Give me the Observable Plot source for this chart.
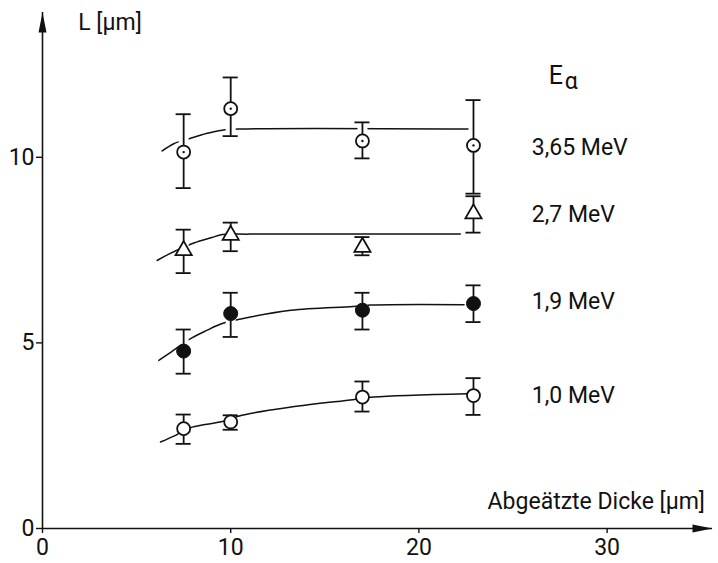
<!DOCTYPE html>
<html><head><meta charset="utf-8">
<script src="https://cdn.jsdelivr.net/npm/d3@7"></script>
<script src="https://cdn.jsdelivr.net/npm/@observablehq/plot@0.6"></script>
<style>body{margin:0;background:#fff}</style>
</head><body><div id="chart"></div>
<script>
// ---- data ----
const thickness = [7.5, 10, 17, 22.9];           // Abgeätzte Dicke [µm]
const energies = ["3,65 MeV", "2,7 MeV", "1,9 MeV", "1,0 MeV"];
const L_365 = [10.14, 11.31, 10.44, 10.32];
const lo_365 = [9.17, 10.57, 9.97, 9.02];
const hi_365 = [11.16, 12.15, 10.94, 11.54];
const L_27 = [7.49, 7.90, 7.58, 8.48];
const lo_27 = [6.88, 7.47, 7.36, 7.97];
const hi_27 = [8.05, 8.24, 7.85, 8.95];
const L_19 = [4.78, 5.79, 5.88, 6.06];
const lo_19 = [4.17, 5.16, 5.36, 5.56];
const hi_19 = [5.36, 6.35, 6.35, 6.55];
const L_10 = [2.69, 2.87, 3.54, 3.58];
const lo_10 = [2.28, 2.66, 3.15, 3.06];
const hi_10 = [3.07, 3.05, 3.96, 4.05];
// fitted curves
const fitX_365 = [6.36, 7.0, 7.8, 8.7, 9.55, 10.5, 22.74];
const fitY_365 = [10.17, 10.37, 10.5, 10.64, 10.73, 10.76, 10.76];
const fitX_27 = [6.09, 6.71, 8.04, 9.0, 9.55, 11, 22.2];
const fitY_27 = [7.22, 7.39, 7.69, 7.84, 7.92, 7.93, 7.93];
const fitX_19 = [6.18, 6.71, 7.78, 8.7, 9.55, 10.6, 13.2, 16.5, 17.5, 22.4];
const fitY_19 = [4.53, 4.71, 5.09, 5.33, 5.52, 5.65, 5.88, 5.98, 6.02, 6.03];
const fitX_10 = [6.27, 7.07, 7.95, 9.55, 10.6, 13.2, 16.5, 17.6, 22.6];
const fitY_10 = [2.33, 2.51, 2.73, 2.88, 3.05, 3.27, 3.47, 3.54, 3.63];
const labelY = [10.27, 8.46, 6.1, 3.57];
const xTicks = [0, 10, 20, 30];
const yTicks = [0, 5, 10];
const xLabel = "Abgeätzte Dicke [µm]";
const yLabel = "L [µm]";
const legendTitle = ["E", "α"];

// ---- build tables ----
const seriesVals = [[L_365, lo_365, hi_365], [L_27, lo_27, hi_27], [L_19, lo_19, hi_19], [L_10, lo_10, hi_10]];
const points = [];
seriesVals.forEach(([L, lo, hi], s) => thickness.forEach((x, i) =>
  points.push({series: energies[s], x, L: L[i], lo: lo[i], hi: hi[i]})));
const fits = [];
[[fitX_365, fitY_365], [fitX_27, fitY_27], [fitX_19, fitY_19], [fitX_10, fitY_10]].forEach(([xs, ys], s) =>
  xs.forEach((x, i) => fits.push({series: energies[s], x, y: ys[i]})));
const labels = energies.map((e, i) => ({text: e, y: labelY[i]}));

const X_MAX = 35.6, Y_MAX = 13.9;
const arrowHead = {draw(ctx) { ctx.moveTo(0, -10); ctx.lineTo(4, 10); ctx.lineTo(-4, 10); ctx.closePath(); }};
const capW = 0.4;
const ink = "#111";
const FONT = "Roboto, 'Liberation Sans', sans-serif";

const chart = Plot.plot({
  width: 718, height: 563,
  marginLeft: 42, marginRight: 6, marginTop: 12, marginBottom: 35,
  x: {domain: [0, X_MAX], label: null},
  y: {domain: [0, Y_MAX], label: null},
  style: {fontFamily: FONT, fontSize: "22px", color: ink, background: "#fff"},
  marks: [
    // axes lines with arrow heads
    Plot.ruleY([0], {x1: 0, x2: X_MAX, stroke: ink, strokeWidth: 1.6}),
    Plot.ruleX([0], {y1: 0, y2: Y_MAX, stroke: ink, strokeWidth: 1.6}),
    Plot.dot([{x: 0, y: Y_MAX}], {x: "x", y: "y", symbol: arrowHead, dy: 10, fill: ink, stroke: null}),
    Plot.dot([{x: X_MAX, y: 0}], {x: "x", y: "y", symbol: arrowHead, rotate: 90, dx: -10, fill: ink, stroke: null}),
    Plot.axisX({ticks: xTicks, tickSize: 5, tickPadding: 5, fontSize: 23, tickFormat: d => d, label: null, stroke: ink, strokeWidth: 1.4}),
    Plot.axisY({ticks: yTicks, tickSize: 6, tickPadding: 2, fontSize: 23, tickFormat: d => d, label: null, stroke: ink, strokeWidth: 1.4}),
    Plot.text([yLabel], {x: 1.9, y: 13.64, text: d => d, textAnchor: "start", fontSize: 23}),
    Plot.text([xLabel], {x: 35.2, y: 0.72, text: d => d, textAnchor: "end", fontSize: 23}),
    // fitted curves
    Plot.line(fits, {x: "x", y: "y", z: "series", curve: "catmull-rom", stroke: ink, strokeWidth: 1.5}),
    // white halo around error bars to break the curve
    Plot.ruleX(points, {x: "x", y1: "lo", y2: "hi", stroke: "#fff", strokeWidth: 10}),
    // error bars
    Plot.ruleX(points, {x: "x", y1: "lo", y2: "hi", stroke: ink, strokeWidth: 1.8}),
    Plot.ruleY(points, {y: "lo", x1: d => d.x - capW, x2: d => d.x + capW, stroke: ink, strokeWidth: 1.8}),
    Plot.ruleY(points, {y: "hi", x1: d => d.x - capW, x2: d => d.x + capW, stroke: ink, strokeWidth: 1.8}),
    // markers
    Plot.dot(points.filter(d => d.series === energies[0] || d.series === energies[3]),
      {x: "x", y: "L", r: 6.5, fill: "#fff", stroke: ink, strokeWidth: 1.8}),
    Plot.dot(points.filter(d => d.series === energies[0]), {x: "x", y: "L", r: 1.2, fill: ink, stroke: null}),
    Plot.dot(points.filter(d => d.series === energies[1]),
      {x: "x", y: "L", symbol: "triangle", r: 6, fill: "#fff", stroke: ink, strokeWidth: 1.8}),
    Plot.dot(points.filter(d => d.series === energies[2]),
      {x: "x", y: "L", r: 7, fill: ink, stroke: ink, strokeWidth: 1}),
    // series labels
    Plot.text(labels, {x: 26.0, y: "y", text: "text", textAnchor: "start", fontSize: 23}),
    Plot.text([legendTitle[0]], {x: 26.9, y: 12.2, text: d => d, textAnchor: "start", fontSize: 25}),
    Plot.text([legendTitle[1]], {x: 26.9, y: 12.2, text: d => d, textAnchor: "start", fontSize: 23, dx: 16, dy: 6})
  ]
});
document.getElementById("chart").appendChild(chart);
</script>
</body></html>
